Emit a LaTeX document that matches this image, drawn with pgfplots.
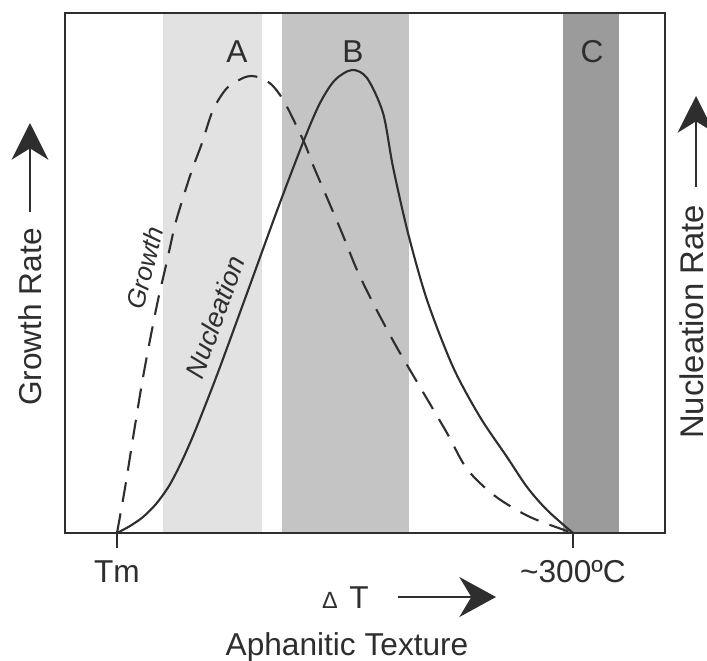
\documentclass[border=0pt]{standalone}
\usepackage{pgfplots}
\pgfplotsset{compat=1.18}
\usepackage{fontspec}
\setmainfont{Liberation Sans}
\usetikzlibrary{arrows.meta}

\definecolor{bandA}{HTML}{E2E2E2}
\definecolor{bandB}{HTML}{C4C4C4}
\definecolor{bandC}{HTML}{9B9B9B}
\definecolor{ink}{HTML}{2E2E2E}

\newcommand{\bigtxt}{\fontsize{13.5}{16}\selectfont}

\begin{document}
\begin{tikzpicture}
\begin{axis}[
    scale only axis,
    width=9cm, height=7.8cm,
    xmin=0, xmax=600, ymin=0, ymax=520,
    axis on top, clip=false,
    axis line style={ink, line width=0.9pt},
    xtick={52,508},
    xticklabels={Tm,\textasciitilde300ºC},
    xtick pos=left, tick align=outside,
    major tick length=0.22cm,
    tick style={ink, line width=0.9pt},
    ytick=\empty,
    xticklabel style={font=\bigtxt, text=ink, yshift=-2pt},
]
% shaded texture bands
\addplot[draw=none, fill=bandA] coordinates {(98,520) (197,520)} \closedcycle;
\addplot[draw=none, fill=bandB] coordinates {(217,520) (344,520)} \closedcycle;
\addplot[draw=none, fill=bandC] coordinates {(498,520) (554,520)} \closedcycle;

% growth rate (dashed)
\addplot[ink, line width=0.9pt, dash pattern=on 8.5pt off 5pt, smooth, tension=0.5] coordinates {
  (52,0) (60,45) (68,95) (77,150) (85,193) (93,233) (102,272) (110,308)
  (118,335) (127,363) (137,390) (148,423) (162,445) (178,455) (187,457)
  (195,455) (207,448) (220,430) (239,391) (248,368) (263,333) (277,300)
  (292,263) (308,230) (325,198) (335,180) (355,146) (382,100) (402,64)
  (430,37) (465,16) (508,0)
};
% nucleation rate (solid)
\addplot[ink, line width=0.9pt, smooth, tension=0.5] coordinates {
  (52,0) (65,7) (78,16) (91,29) (104,47) (116,70) (128,97) (140,127)
  (155,166) (185,248) (213,325) (239,393) (255,430) (270,453) (287,463)
  (302,455) (318,420) (328,366) (343,300) (362,233) (388,166) (415,116)
  (442,76) (462,46) (482,23) (508,0)
};

\node[anchor=base, font=\bigtxt, text=ink] at (axis cs:172,470) {A};
\node[anchor=base, font=\bigtxt, text=ink] at (axis cs:288,470) {B};
\node[anchor=base, font=\bigtxt, text=ink] at (axis cs:527,470) {C};

\node[rotate=76, font=\fontsize{11}{12}\selectfont\itshape, text=ink] at (axis cs:80,265) {Growth};
\node[rotate=70, font=\fontsize{11.5}{13}\selectfont\itshape, text=ink] at (axis cs:150,216) {Nucleation};

% axis captions
\node[rotate=90, anchor=base, font=\bigtxt, text=ink] at (axis cs:-23,216) {Growth Rate};
\draw[ink, line width=0.9pt, -{Stealth[length=0.55cm, width=0.55cm, inset=0.17cm]}]
  (axis cs:-35,321) -- (axis cs:-35,410);
\node[rotate=90, anchor=base, font=\fontsize{14}{16}\selectfont, text=ink] at (axis cs:638,211) {Nucleation Rate};
\draw[ink, line width=0.9pt, -{Stealth[length=0.55cm, width=0.55cm, inset=0.17cm]}]
  (axis cs:631,346) -- (axis cs:631,437);

\node[anchor=base, font=\fontsize{10}{12}\selectfont, text=ink] at (axis cs:265,-75) {Δ};
\node[anchor=base, font=\bigtxt, text=ink] at (axis cs:294,-75) {T};
\draw[ink, line width=0.9pt, -{Stealth[length=0.55cm, width=0.6cm, inset=0.18cm]}]
  (axis cs:333,-64) -- (axis cs:431,-64);
\node[anchor=base, font=\bigtxt, text=ink] at (axis cs:282,-122) {Aphanitic Texture};

\coordinate (bl) at (axis cs:-65,-127);
\coordinate (tr) at (axis cs:642,533);
\end{axis}
\pgfresetboundingbox
\path (bl) rectangle (tr);
\end{tikzpicture}
\end{document}
